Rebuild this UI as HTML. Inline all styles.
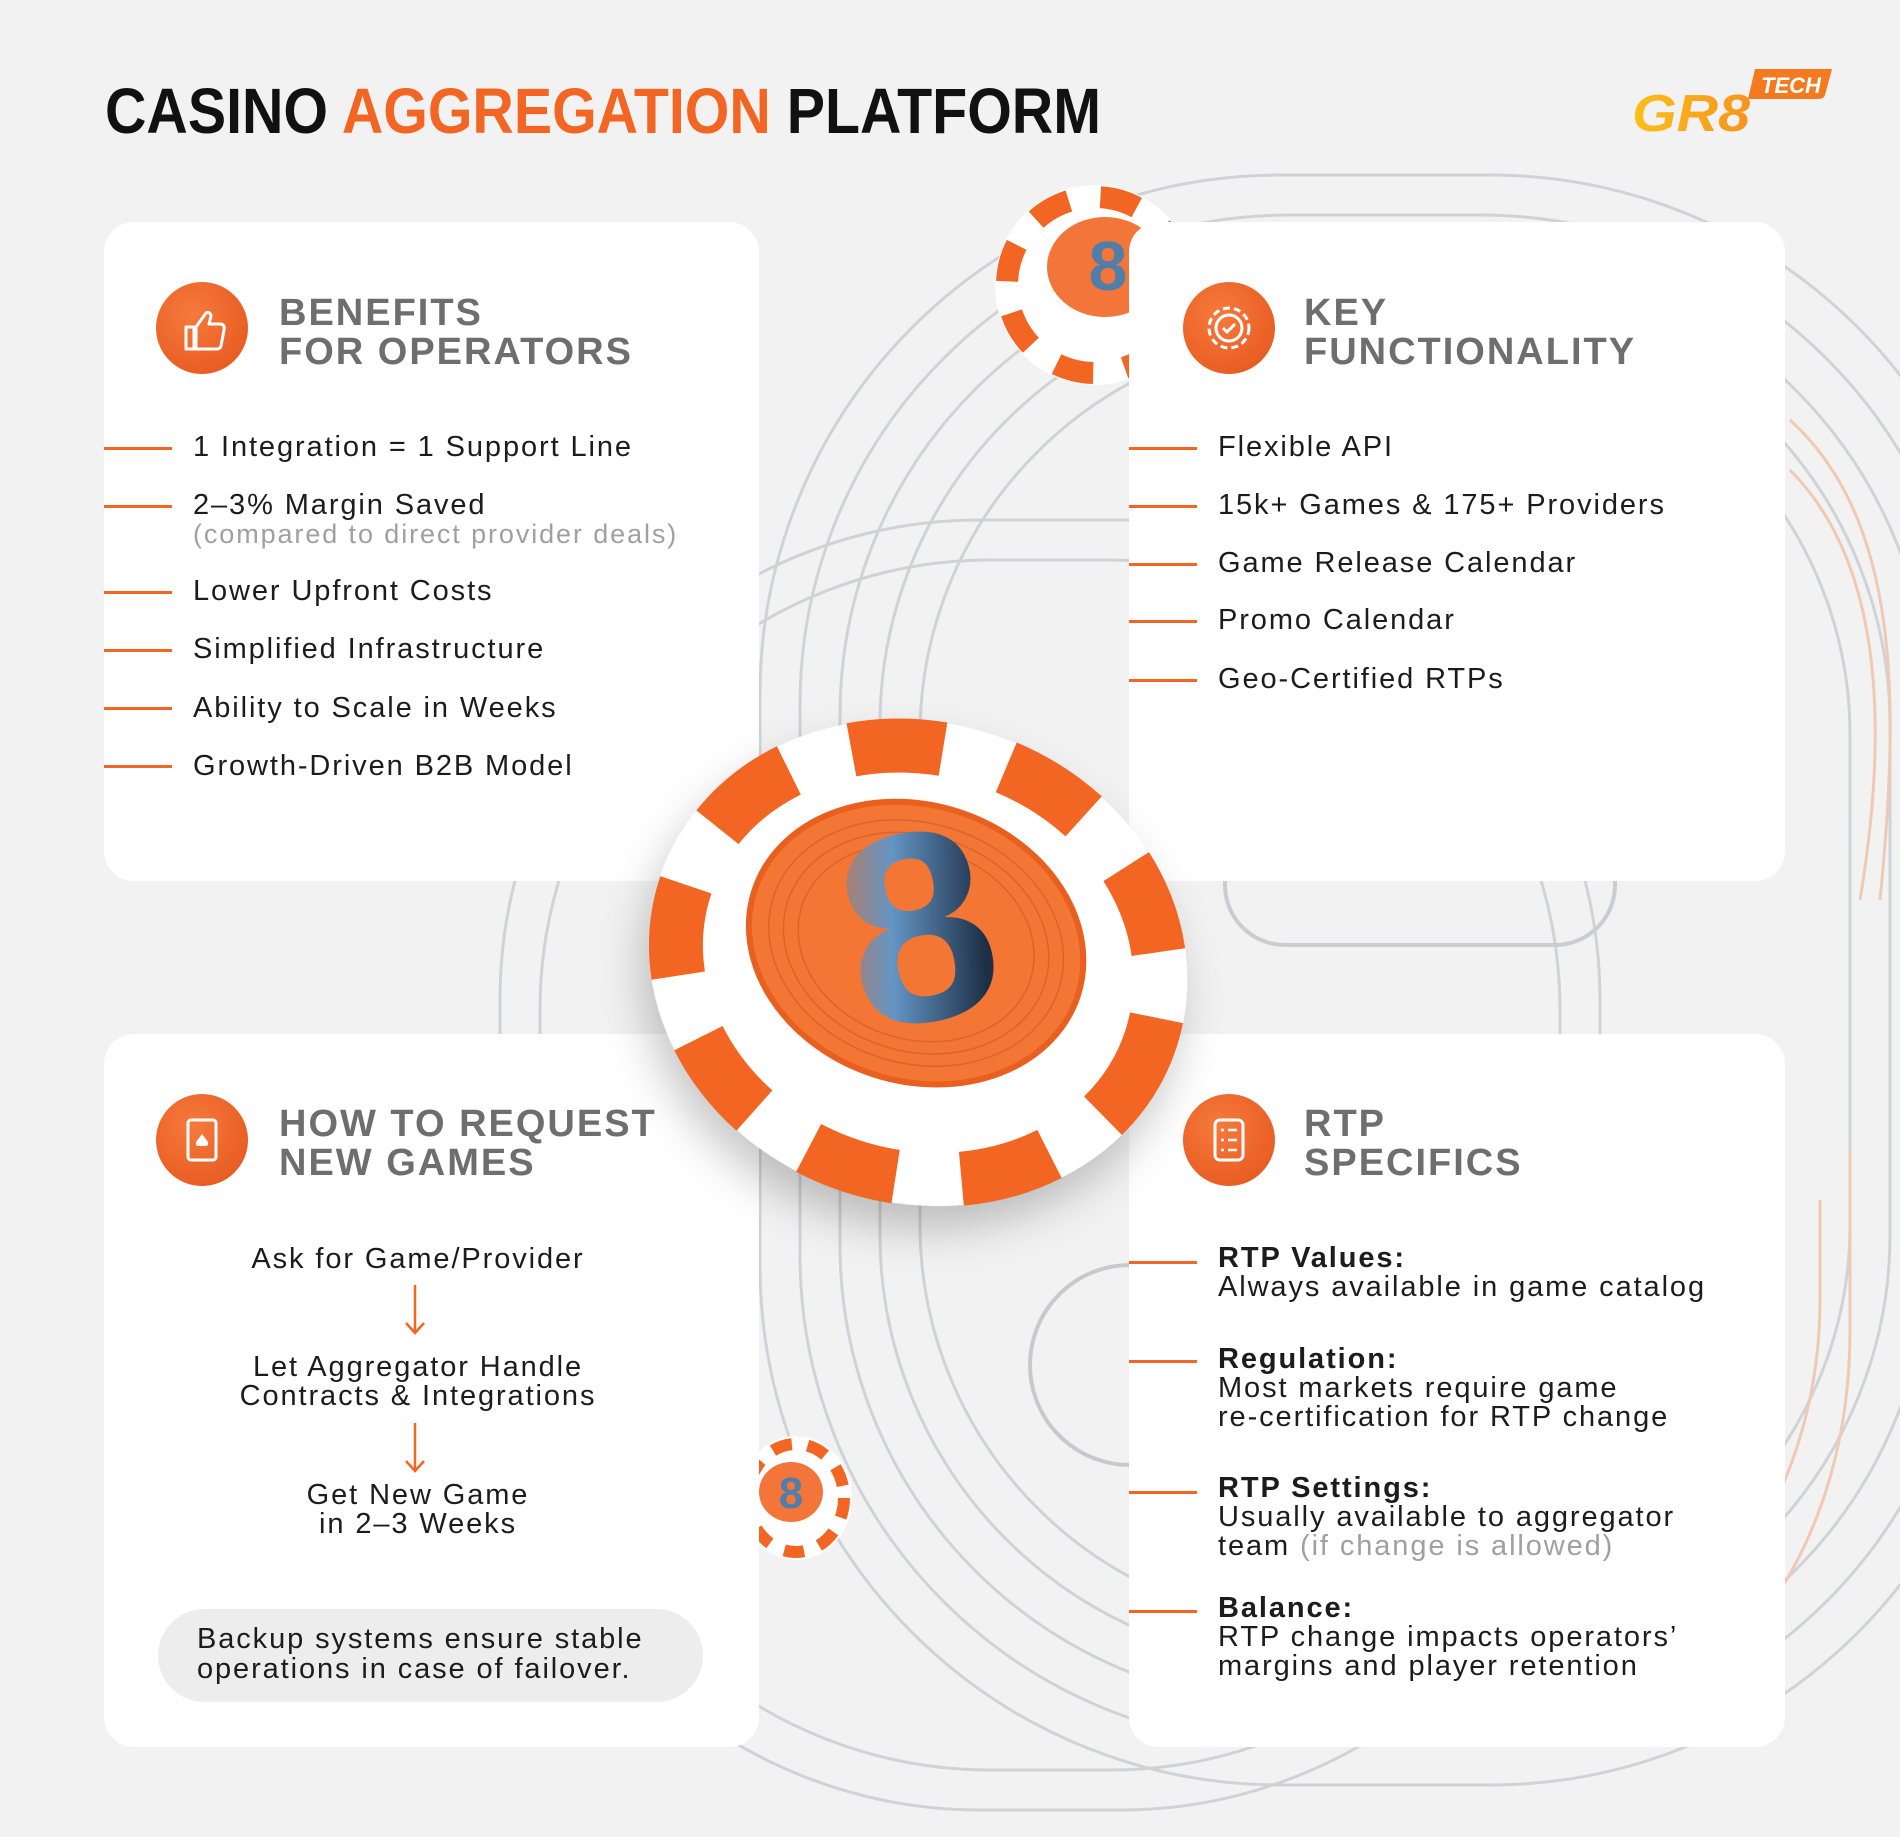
<!DOCTYPE html>
<html><head><meta charset="utf-8"><style>
*{margin:0;padding:0;box-sizing:border-box}
body{width:1900px;height:1837px;background:#f2f2f2;position:relative;overflow:hidden;font-family:"Liberation Sans",sans-serif}
.abs{position:absolute}
.card{position:absolute;background:#fff;border-radius:30px}
.h{position:absolute;font-weight:700;color:#6e6e6e;font-size:38px;line-height:39px;letter-spacing:2px}
.t{position:absolute;font-size:29px;line-height:30px;color:#1c1c1c;letter-spacing:1.9px;white-space:nowrap}
.d{position:absolute;height:3px;background:#f26522;width:68px}
.g{color:#a0a0a0}
.ic{position:absolute;width:92px;height:92px;border-radius:50%;background:radial-gradient(circle at 40% 35%,#f67a3c,#e4531a)}
.c{text-align:center;width:560px;left:138px}
b{font-weight:700}
</style></head><body>

<svg class="abs" style="left:0;top:0" width="1900" height="1837">
 <g fill="none" stroke="#cfd3d8" stroke-width="3">
  <rect x="760" y="175" width="1250" height="1610" rx="520" />
  <rect x="800" y="215" width="1170" height="1530" rx="490" />
  <rect x="840" y="255" width="1090" height="1450" rx="460" />
  <rect x="880" y="295" width="1010" height="1370" rx="430" />
  <rect x="920" y="335" width="930" height="1290" rx="400" />
  <rect x="500" y="520" width="1100" height="1290" rx="480" />
  <rect x="540" y="560" width="1020" height="1210" rx="450" />
  <rect x="1225" y="700" width="390" height="245" rx="60" stroke="#c9ccd2" stroke-width="4"/>
  <path d="M1130 1265 a90 90 0 0 0 0 200" stroke="#c6cad0" stroke-width="4"/>
 </g>
 <g fill="none" stroke="#efc9b3" stroke-width="3">
  <path d="M1790 420 C1900 520 1900 700 1880 900"/>
  <path d="M1790 470 C1880 560 1890 720 1860 900"/>
  <path d="M1820 1200 L1820 1300 C1820 1500 1700 1640 1600 1700"/>
  <path d="M1850 1150 L1850 1330 C1850 1560 1720 1690 1620 1740"/>
 </g>
</svg>

<!-- small top chip -->
<svg class="abs" style="left:990px;top:172px" width="210" height="222">
 <ellipse cx="105" cy="113" rx="100" ry="100" fill="#fff"/>
 <ellipse cx="105" cy="113" rx="88" ry="88" fill="none" stroke="#f26522" stroke-width="22" stroke-dasharray="38 32"/>
 <ellipse cx="115" cy="95" rx="58" ry="50" fill="#f4753a"/>
 <text x="118" y="118" font-size="70" font-weight="700" fill="#4f7fa8" text-anchor="middle" font-family="Liberation Sans">8</text>
</svg>

<!-- small bottom chip -->
<svg class="abs" style="left:736px;top:1430px" width="122" height="136">
 <ellipse cx="60" cy="68" rx="56" ry="62" fill="#fff"/>
 <ellipse cx="60" cy="68" rx="48" ry="54" fill="none" stroke="#f26522" stroke-width="12" stroke-dasharray="20 16"/>
 <ellipse cx="55" cy="62" rx="32" ry="30" fill="#f4753a"/>
 <text x="55" y="78" font-size="44" font-weight="700" fill="#4f7fa8" text-anchor="middle" font-family="Liberation Sans">8</text>
</svg>

<!-- cards -->
<div class="card" style="left:104px;top:222px;width:655px;height:659px"></div>
<div class="card" style="left:1129px;top:222px;width:656px;height:659px"></div>
<div class="card" style="left:104px;top:1034px;width:655px;height:713px"></div>
<div class="card" style="left:1129px;top:1034px;width:656px;height:713px"></div>

<!-- title -->
<svg class="abs" style="left:105px;top:70px" width="1000" height="80">
 <text x="0" y="63" font-family="Liberation Sans" font-weight="700" font-size="64" textLength="996" lengthAdjust="spacingAndGlyphs" fill="#111">CASINO <tspan fill="#f26522">AGGREGATION</tspan> PLATFORM</text>
</svg>

<!-- logo -->
<svg class="abs" style="left:1630px;top:65px" width="205" height="75">
 <defs><linearGradient id="lg" x1="0" x2="1"><stop offset="0" stop-color="#fbbf1a"/><stop offset="1" stop-color="#f7941d"/></linearGradient></defs>
 <path d="M125 4 L202 4 L195 30 Q194 34 188 34 L118 34 Z" fill="#f47a20"/>
 <text x="131" y="28" font-family="Liberation Sans" font-weight="700" font-style="italic" font-size="22" fill="#fff">TECH</text>
 <text x="2" y="66" font-family="Liberation Sans" font-weight="700" font-style="italic" font-size="52" fill="url(#lg)" textLength="118" lengthAdjust="spacingAndGlyphs">GR8</text>
</svg>

<!-- big chip -->
<svg class="abs" style="left:530px;top:595px" width="780" height="730">
 <defs>
  <filter id="sh" x="-30%" y="-30%" width="160%" height="170%"><feDropShadow dx="0" dy="25" stdDeviation="22" flood-color="#000" flood-opacity="0.22"/></filter>
  <linearGradient id="b8" x1="0" y1="0" x2="1" y2="0.4"><stop offset="0" stop-color="#d9703a"/><stop offset="0.45" stop-color="#6495c5"/><stop offset="1" stop-color="#1d2f45"/></linearGradient>
 </defs>
 <g transform="translate(100 100)">
 <g transform="rotate(18 290 262)">
  <ellipse cx="290" cy="268" rx="272" ry="240" fill="#fff" filter="url(#sh)"/>
  <ellipse cx="290" cy="268" rx="245" ry="214" fill="none" stroke="#f26522" stroke-width="54" stroke-dasharray="92 66"/>
  <ellipse cx="282" cy="250" rx="170" ry="138" fill="#f47634" stroke="#e85f20" stroke-width="6"/>
  <g fill="none" stroke="#d9652e" stroke-width="1.5">
   <ellipse cx="282" cy="250" rx="150" ry="120"/><ellipse cx="282" cy="250" rx="135" ry="108"/><ellipse cx="282" cy="250" rx="120" ry="96"/>
  </g>
 </g>
 <text x="292" y="325" font-family="Liberation Sans" font-weight="700" font-size="270" fill="url(#b8)" text-anchor="middle" transform="rotate(-12 292 250)">8</text>
 </g>
</svg>

<!-- top-left -->
<div class="ic" style="left:156px;top:282px"><svg width="92" height="92"><path d="M30 45 h8 v22 h-8z M40 45 l10 -14 q4 -2 5 3 l-2 8 h12 q4 1 3 6 l-3 16 q-1 3 -4 3 h-21z" fill="none" stroke="#fff" stroke-width="3" stroke-linejoin="round"/></svg></div>
<div class="h" style="left:279px;top:294px">BENEFITS<br>FOR OPERATORS</div>
<div class="d" style="left:104px;top:447px"></div><div class="t" style="left:193px;top:432px">1 Integration = 1 Support Line</div>
<div class="d" style="left:104px;top:505px"></div><div class="t" style="left:193px;top:490px">2–3% Margin Saved</div>
<div class="t g" style="left:193px;top:519px;font-size:27px">(compared to direct provider deals)</div>
<div class="d" style="left:104px;top:591px"></div><div class="t" style="left:193px;top:576px">Lower Upfront Costs</div>
<div class="d" style="left:104px;top:649px"></div><div class="t" style="left:193px;top:634px">Simplified Infrastructure</div>
<div class="d" style="left:104px;top:707px"></div><div class="t" style="left:193px;top:693px">Ability to Scale in Weeks</div>
<div class="d" style="left:104px;top:765px"></div><div class="t" style="left:193px;top:751px">Growth-Driven B2B Model</div>

<!-- top-right -->
<div class="ic" style="left:1183px;top:282px"><svg width="92" height="92"><circle cx="46" cy="46" r="20" fill="none" stroke="#fff" stroke-width="3" stroke-dasharray="7 4"/><circle cx="46" cy="46" r="13" fill="none" stroke="#fff" stroke-width="3"/><path d="M40 46 l4 4 l8 -8" fill="none" stroke="#fff" stroke-width="3"/></svg></div>
<div class="h" style="left:1304px;top:294px">KEY<br>FUNCTIONALITY</div>
<div class="d" style="left:1129px;top:447px"></div><div class="t" style="left:1218px;top:432px">Flexible API</div>
<div class="d" style="left:1129px;top:505px"></div><div class="t" style="left:1218px;top:490px">15k+ Games &amp; 175+ Providers</div>
<div class="d" style="left:1129px;top:563px"></div><div class="t" style="left:1218px;top:548px">Game Release Calendar</div>
<div class="d" style="left:1129px;top:620px"></div><div class="t" style="left:1218px;top:605px">Promo Calendar</div>
<div class="d" style="left:1129px;top:679px"></div><div class="t" style="left:1218px;top:664px">Geo-Certified RTPs</div>

<!-- bottom-left -->
<div class="ic" style="left:156px;top:1094px"><svg width="92" height="92"><rect x="32" y="26" width="28" height="40" rx="3" fill="none" stroke="#fff" stroke-width="3"/><path d="M46 40 l6 8 q1 4 -3 4 h-6 q-4 0 -3 -4z" fill="#fff"/></svg></div>
<div class="h" style="left:279px;top:1105px">HOW TO REQUEST<br>NEW GAMES</div>
<div class="t c" style="top:1244px">Ask for Game/Provider</div>
<svg class="abs" style="left:404px;top:1285px" width="22" height="52"><path d="M11 0 V48 M2 38 L11 48 L20 38" fill="none" stroke="#f26522" stroke-width="2.5"/></svg>
<div class="t c" style="top:1353px;line-height:29px">Let Aggregator Handle<br>Contracts &amp; Integrations</div>
<svg class="abs" style="left:404px;top:1423px" width="22" height="52"><path d="M11 0 V48 M2 38 L11 48 L20 38" fill="none" stroke="#f26522" stroke-width="2.5"/></svg>
<div class="t c" style="top:1481px;line-height:29px">Get New Game<br>in 2–3 Weeks</div>
<div class="abs" style="left:158px;top:1609px;width:545px;height:93px;border-radius:47px;background:#ededed"></div>
<div class="t" style="left:197px;top:1624px;line-height:30px">Backup systems ensure stable<br>operations in case of failover.</div>

<!-- bottom-right -->
<div class="ic" style="left:1183px;top:1094px"><svg width="92" height="92"><rect x="32" y="26" width="28" height="40" rx="5" fill="none" stroke="#fff" stroke-width="3"/><path d="M38 36 h3 M45 36 h9 M38 46 h3 M45 46 h9 M38 56 h3 M45 56 h9" stroke="#fff" stroke-width="2.5"/></svg></div>
<div class="h" style="left:1304px;top:1105px">RTP<br>SPECIFICS</div>
<div class="d" style="left:1129px;top:1261px"></div>
<div class="t" style="left:1218px;top:1244px;line-height:29px"><b>RTP Values:</b><br>Always available in game catalog</div>
<div class="d" style="left:1129px;top:1360px"></div>
<div class="t" style="left:1218px;top:1345px;line-height:29px"><b>Regulation:</b><br>Most markets require game<br>re-certification for RTP change</div>
<div class="d" style="left:1129px;top:1491px"></div>
<div class="t" style="left:1218px;top:1474px;line-height:29px"><b>RTP Settings:</b><br>Usually available to aggregator<br>team <span class="g">(if change is allowed)</span></div>
<div class="d" style="left:1129px;top:1610px"></div>
<div class="t" style="left:1218px;top:1594px;line-height:29px"><b>Balance:</b><br>RTP change impacts operators’<br>margins and player retention</div>

</body></html>
